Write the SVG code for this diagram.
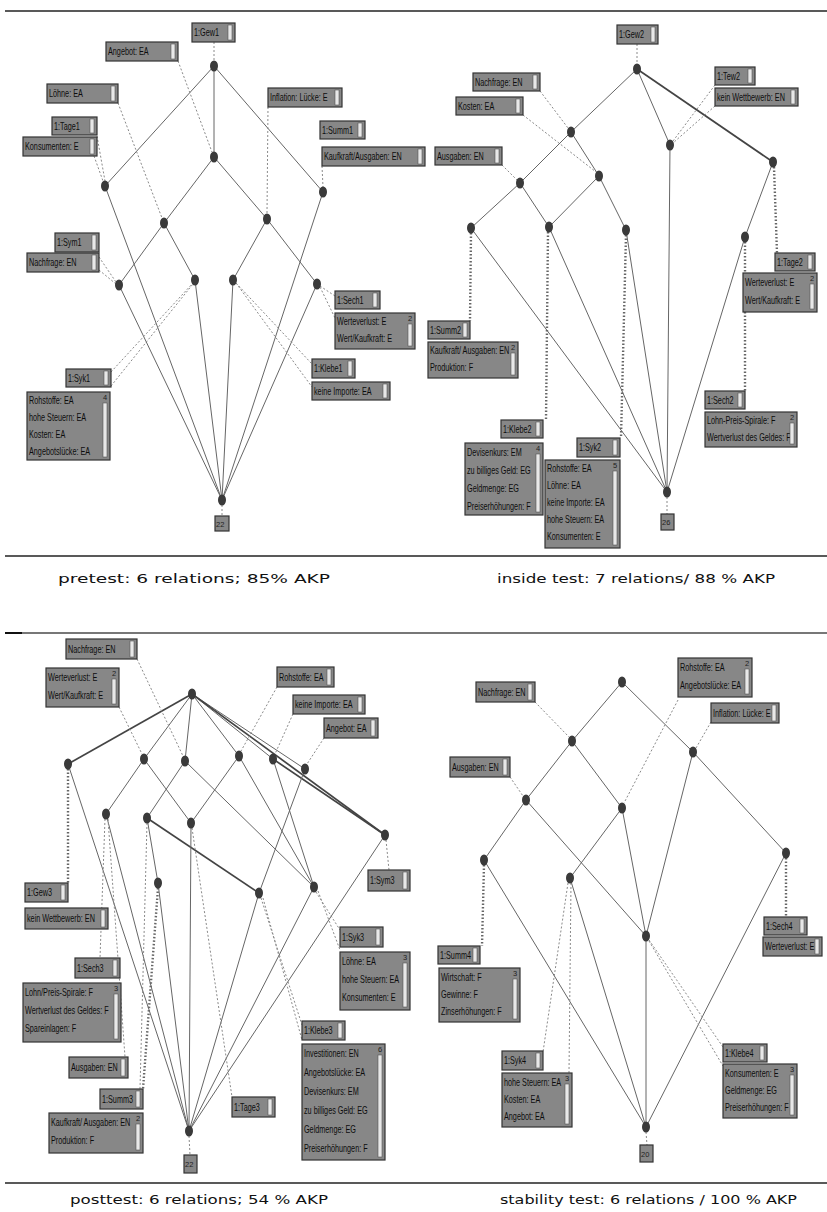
<svg xmlns="http://www.w3.org/2000/svg" width="827" height="1212" viewBox="0 0 827 1212">
<style>
.lb{fill:#878787;stroke:#333;stroke-width:1.2}
.sb{fill:#e8e8e8;stroke:#555;stroke-width:0.6}
.tx{font-family:"Liberation Sans",Arial,sans-serif;font-size:11px;fill:#0d0d0d;transform-box:fill-box;transform-origin:0 0;transform:scaleX(0.66)}
.ct{font-family:"Liberation Sans",sans-serif;font-size:7.5px;fill:#222}
.n{fill:#3a3a3a}
.e{stroke:#666;stroke-width:1;fill:none}
.et{stroke:#444;stroke-width:1.7;fill:none}
.d{stroke:#8a8a8a;stroke-width:1;stroke-dasharray:2 2;fill:none}
.dd{stroke:#666;stroke-width:2.4;stroke-dasharray:1.5 2;fill:none}
.cap{font-family:"DejaVu Sans",sans-serif;font-size:13px;fill:#111}
.sep{stroke:#222;stroke-width:1.6}
</style>
<rect width="827" height="1212" fill="#fff"/>
<g id="separators">
<line class="sep" x1="5" y1="11" x2="827" y2="11" stroke="#444" stroke-width="2"/>
<line class="sep" x1="5" y1="556" x2="827" y2="556"/>
<line x1="5" y1="633" x2="827" y2="633" stroke="#777" stroke-width="2"/>
<line x1="5" y1="633" x2="22" y2="633" stroke="#111" stroke-width="2"/>
<line class="sep" x1="5" y1="1183" x2="827" y2="1183"/>
</g>
<g id="connectors">
<!-- pretest solid -->
<line class="e" x1="214" y1="66" x2="105" y2="186"/>
<line class="e" x1="214" y1="66" x2="214" y2="157"/>
<line class="e" x1="214" y1="66" x2="323" y2="192"/>
<line class="e" x1="214" y1="157" x2="164" y2="223"/>
<line class="e" x1="214" y1="157" x2="267" y2="219"/>
<line class="e" x1="164" y1="223" x2="119" y2="285"/>
<line class="e" x1="164" y1="223" x2="195" y2="280"/>
<line class="e" x1="267" y1="219" x2="233" y2="280"/>
<line class="e" x1="267" y1="219" x2="317" y2="284"/>
<line class="e" x1="105" y1="186" x2="222" y2="500"/>
<line class="e" x1="323" y1="192" x2="222" y2="500"/>
<line class="e" x1="119" y1="285" x2="222" y2="500"/>
<line class="e" x1="195" y1="280" x2="222" y2="500"/>
<line class="e" x1="233" y1="280" x2="222" y2="500"/>
<line class="e" x1="317" y1="284" x2="222" y2="500"/>
<!-- pretest dashed -->
<line class="d" x1="214" y1="42" x2="214" y2="61"/>
<line class="d" x1="178" y1="61" x2="212" y2="152"/>
<line class="d" x1="118" y1="103" x2="162" y2="218"/>
<line class="d" x1="97" y1="136" x2="105" y2="181"/>
<line class="d" x1="94" y1="156" x2="103" y2="181"/>
<line class="d" x1="268" y1="107" x2="267" y2="214"/>
<line class="d" x1="322" y1="166" x2="323" y2="187"/>
<line class="d" x1="99" y1="257" x2="116" y2="282"/>
<line class="d" x1="99" y1="270" x2="116" y2="284"/>
<line class="d" x1="111" y1="372" x2="193" y2="283"/>
<line class="d" x1="111" y1="386" x2="193" y2="284"/>
<line class="d" x1="320" y1="286" x2="335" y2="296"/>
<line class="d" x1="320" y1="287" x2="335" y2="318"/>
<line class="d" x1="236" y1="283" x2="312" y2="364"/>
<line class="d" x1="236" y1="283" x2="312" y2="387"/>
<line class="d" x1="222" y1="505" x2="222" y2="516"/>
<!-- inside test solid -->
<line class="e" x1="637" y1="69" x2="571" y2="132"/>
<line class="e" x1="637" y1="69" x2="670" y2="145"/>
<line class="et" x1="637" y1="69" x2="773" y2="162"/>
<line class="e" x1="571" y1="132" x2="520" y2="183"/>
<line class="e" x1="571" y1="132" x2="599" y2="176"/>
<line class="e" x1="520" y1="183" x2="471" y2="228"/>
<line class="e" x1="520" y1="183" x2="549" y2="227"/>
<line class="e" x1="599" y1="176" x2="549" y2="227"/>
<line class="e" x1="599" y1="176" x2="626" y2="230"/>
<line class="e" x1="773" y1="162" x2="745" y2="237"/>
<line class="e" x1="670" y1="145" x2="667" y2="492"/>
<line class="e" x1="471" y1="228" x2="667" y2="492"/>
<line class="e" x1="549" y1="227" x2="667" y2="492"/>
<line class="e" x1="626" y1="230" x2="667" y2="492"/>
<line class="e" x1="745" y1="237" x2="667" y2="492"/>
<!-- inside test dashed -->
<line class="d" x1="637" y1="44" x2="637" y2="64"/>
<line class="d" x1="540" y1="91" x2="568" y2="128"/>
<line class="d" x1="523" y1="115" x2="596" y2="172"/>
<line class="d" x1="715" y1="85" x2="673" y2="141"/>
<line class="d" x1="715" y1="106" x2="673" y2="143"/>
<line class="d" x1="502" y1="165" x2="517" y2="180"/>
<line class="dd" x1="471" y1="233" x2="470" y2="321"/>
<line class="dd" x1="548" y1="232" x2="546" y2="420"/>
<line class="dd" x1="626" y1="235" x2="621" y2="438"/>
<line class="dd" x1="774" y1="167" x2="777" y2="253"/>
<line class="dd" x1="745" y1="242" x2="745" y2="391"/>
<line class="d" x1="667" y1="497" x2="667" y2="514"/>
<!-- posttest solid -->
<line class="et" x1="192" y1="694" x2="68" y2="764"/>
<line class="e" x1="192" y1="694" x2="144" y2="759"/>
<line class="e" x1="192" y1="694" x2="185" y2="761"/>
<line class="e" x1="192" y1="694" x2="239" y2="756"/>
<line class="e" x1="192" y1="694" x2="273" y2="759"/>
<line class="e" x1="192" y1="694" x2="305" y2="769"/>
<line class="et" x1="192" y1="694" x2="385" y2="835"/>
<line class="et" x1="273" y1="759" x2="385" y2="835"/>
<line class="e" x1="144" y1="759" x2="106" y2="814"/>
<line class="e" x1="144" y1="759" x2="191" y2="823"/>
<line class="e" x1="185" y1="761" x2="147" y2="818"/>
<line class="e" x1="185" y1="761" x2="314" y2="887"/>
<line class="e" x1="239" y1="756" x2="191" y2="823"/>
<line class="e" x1="239" y1="756" x2="314" y2="887"/>
<line class="e" x1="273" y1="759" x2="314" y2="887"/>
<line class="e" x1="305" y1="769" x2="259" y2="893"/>
<line class="et" x1="147" y1="818" x2="259" y2="893"/>
<line class="e" x1="147" y1="818" x2="158" y2="883"/>
<line class="e" x1="68" y1="764" x2="189" y2="1131"/>
<line class="e" x1="106" y1="814" x2="189" y2="1131"/>
<line class="e" x1="158" y1="883" x2="189" y2="1131"/>
<line class="e" x1="191" y1="823" x2="189" y2="1131"/>
<line class="e" x1="259" y1="893" x2="189" y2="1131"/>
<line class="e" x1="314" y1="887" x2="189" y2="1131"/>
<line class="e" x1="385" y1="835" x2="189" y2="1131"/>
<!-- posttest dashed -->
<line class="d" x1="137" y1="659" x2="183" y2="756"/>
<line class="d" x1="119" y1="707" x2="142" y2="754"/>
<line class="d" x1="277" y1="687" x2="241" y2="751"/>
<line class="d" x1="293" y1="714" x2="275" y2="754"/>
<line class="d" x1="324" y1="738" x2="307" y2="764"/>
<line class="dd" x1="68" y1="769" x2="68" y2="883"/>
<line class="d" x1="105" y1="819" x2="100" y2="958"/>
<line class="d" x1="108" y1="819" x2="125" y2="1057"/>
<line class="d" x1="147" y1="823" x2="140" y2="1089"/>
<line class="dd" x1="158" y1="888" x2="143" y2="1089"/>
<line class="d" x1="192" y1="828" x2="232" y2="1097"/>
<line class="d" x1="261" y1="898" x2="302" y2="1025"/>
<line class="d" x1="263" y1="898" x2="302" y2="1040"/>
<line class="d" x1="316" y1="892" x2="340" y2="930"/>
<line class="d" x1="318" y1="891" x2="340" y2="950"/>
<line class="d" x1="386" y1="840" x2="389" y2="870"/>
<line class="d" x1="189" y1="1136" x2="190" y2="1155"/>
<!-- stability solid -->
<line class="e" x1="622" y1="682" x2="572" y2="741"/>
<line class="e" x1="622" y1="682" x2="693" y2="752"/>
<line class="e" x1="572" y1="741" x2="526" y2="800"/>
<line class="e" x1="572" y1="741" x2="622" y2="808"/>
<line class="e" x1="693" y1="752" x2="786" y2="853"/>
<line class="e" x1="693" y1="752" x2="646" y2="936"/>
<line class="e" x1="526" y1="800" x2="484" y2="860"/>
<line class="e" x1="526" y1="800" x2="646" y2="936"/>
<line class="e" x1="622" y1="808" x2="570" y2="878"/>
<line class="e" x1="622" y1="808" x2="646" y2="936"/>
<line class="e" x1="484" y1="860" x2="646" y2="1127"/>
<line class="e" x1="570" y1="878" x2="646" y2="1127"/>
<line class="e" x1="646" y1="936" x2="646" y2="1127"/>
<line class="e" x1="786" y1="853" x2="646" y2="1127"/>
<!-- stability dashed -->
<line class="d" x1="535" y1="702" x2="569" y2="737"/>
<line class="d" x1="678" y1="700" x2="624" y2="803"/>
<line class="d" x1="711" y1="722" x2="696" y2="748"/>
<line class="d" x1="510" y1="777" x2="523" y2="796"/>
<line class="dd" x1="484" y1="865" x2="482" y2="946"/>
<line class="d" x1="568" y1="883" x2="543" y2="1052"/>
<line class="d" x1="571" y1="883" x2="569" y2="1073"/>
<line class="dd" x1="786" y1="858" x2="786" y2="917"/>
<line class="d" x1="649" y1="940" x2="723" y2="1047"/>
<line class="d" x1="649" y1="941" x2="723" y2="1066"/>
<line class="d" x1="646" y1="1132" x2="647" y2="1145"/>
</g>
<!-- nodes -->
<g id="pre-n1"><ellipse class="n" cx="214" cy="66" rx="4" ry="5.5"/></g>
<g id="pre-n2"><ellipse class="n" cx="214" cy="157" rx="4" ry="5.5"/></g>
<g id="pre-n3"><ellipse class="n" cx="105" cy="186" rx="4" ry="5.5"/></g>
<g id="pre-n4"><ellipse class="n" cx="323" cy="192" rx="4" ry="5.5"/></g>
<g id="pre-n5"><ellipse class="n" cx="164" cy="223" rx="4" ry="5.5"/></g>
<g id="pre-n6"><ellipse class="n" cx="267" cy="219" rx="4" ry="5.5"/></g>
<g id="pre-n7"><ellipse class="n" cx="119" cy="285" rx="4" ry="5.5"/></g>
<g id="pre-n8"><ellipse class="n" cx="195" cy="280" rx="4" ry="5.5"/></g>
<g id="pre-n9"><ellipse class="n" cx="233" cy="280" rx="4" ry="5.5"/></g>
<g id="pre-n10"><ellipse class="n" cx="317" cy="284" rx="4" ry="5.5"/></g>
<g id="pre-n11"><ellipse class="n" cx="222" cy="500" rx="4" ry="5.5"/></g>
<g id="in-n1"><ellipse class="n" cx="637" cy="69" rx="4" ry="5.5"/></g>
<g id="in-n2"><ellipse class="n" cx="571" cy="132" rx="4" ry="5.5"/></g>
<g id="in-n3"><ellipse class="n" cx="670" cy="145" rx="4" ry="5.5"/></g>
<g id="in-n4"><ellipse class="n" cx="773" cy="162" rx="4" ry="5.5"/></g>
<g id="in-n5"><ellipse class="n" cx="520" cy="183" rx="4" ry="5.5"/></g>
<g id="in-n6"><ellipse class="n" cx="599" cy="176" rx="4" ry="5.5"/></g>
<g id="in-n7"><ellipse class="n" cx="471" cy="228" rx="4" ry="5.5"/></g>
<g id="in-n8"><ellipse class="n" cx="549" cy="227" rx="4" ry="5.5"/></g>
<g id="in-n9"><ellipse class="n" cx="626" cy="230" rx="4" ry="5.5"/></g>
<g id="in-n10"><ellipse class="n" cx="745" cy="237" rx="4" ry="5.5"/></g>
<g id="in-n11"><ellipse class="n" cx="667" cy="492" rx="4" ry="5.5"/></g>
<g id="post-n1"><ellipse class="n" cx="192" cy="694" rx="4" ry="5.5"/></g>
<g id="post-n2"><ellipse class="n" cx="68" cy="764" rx="4" ry="5.5"/></g>
<g id="post-n3"><ellipse class="n" cx="144" cy="759" rx="4" ry="5.5"/></g>
<g id="post-n4"><ellipse class="n" cx="185" cy="761" rx="4" ry="5.5"/></g>
<g id="post-n5"><ellipse class="n" cx="239" cy="756" rx="4" ry="5.5"/></g>
<g id="post-n6"><ellipse class="n" cx="273" cy="759" rx="4" ry="5.5"/></g>
<g id="post-n7"><ellipse class="n" cx="305" cy="769" rx="4" ry="5.5"/></g>
<g id="post-n8"><ellipse class="n" cx="106" cy="814" rx="4" ry="5.5"/></g>
<g id="post-n9"><ellipse class="n" cx="147" cy="818" rx="4" ry="5.5"/></g>
<g id="post-n10"><ellipse class="n" cx="191" cy="823" rx="4" ry="5.5"/></g>
<g id="post-n11"><ellipse class="n" cx="385" cy="835" rx="4" ry="5.5"/></g>
<g id="post-n12"><ellipse class="n" cx="158" cy="883" rx="4" ry="5.5"/></g>
<g id="post-n13"><ellipse class="n" cx="259" cy="893" rx="4" ry="5.5"/></g>
<g id="post-n14"><ellipse class="n" cx="314" cy="887" rx="4" ry="5.5"/></g>
<g id="post-n15"><ellipse class="n" cx="189" cy="1131" rx="4" ry="5.5"/></g>
<g id="stab-n1"><ellipse class="n" cx="622" cy="682" rx="4" ry="5.5"/></g>
<g id="stab-n2"><ellipse class="n" cx="572" cy="741" rx="4" ry="5.5"/></g>
<g id="stab-n3"><ellipse class="n" cx="693" cy="752" rx="4" ry="5.5"/></g>
<g id="stab-n4"><ellipse class="n" cx="526" cy="800" rx="4" ry="5.5"/></g>
<g id="stab-n5"><ellipse class="n" cx="622" cy="808" rx="4" ry="5.5"/></g>
<g id="stab-n6"><ellipse class="n" cx="484" cy="860" rx="4" ry="5.5"/></g>
<g id="stab-n7"><ellipse class="n" cx="570" cy="878" rx="4" ry="5.5"/></g>
<g id="stab-n8"><ellipse class="n" cx="786" cy="853" rx="4" ry="5.5"/></g>
<g id="stab-n9"><ellipse class="n" cx="646" cy="936" rx="4" ry="5.5"/></g>
<g id="stab-n10"><ellipse class="n" cx="646" cy="1127" rx="4" ry="5.5"/></g>
<!-- pretest labels -->
<g id="pre-gew1"><rect class="lb" x="192" y="23" width="43" height="19"/><text class="tx" x="194" y="36">1:Gew1</text><rect class="sb" x="228" y="25" width="4" height="15"/></g>
<g id="pre-angebot"><rect class="lb" x="106" y="42" width="72" height="19"/><text class="tx" x="108" y="55">Angebot: EA</text><rect class="sb" x="171" y="44" width="4" height="15"/></g>
<g id="pre-loehne"><rect class="lb" x="47" y="84" width="71" height="19"/><text class="tx" x="49" y="97">Löhne: EA</text><rect class="sb" x="111" y="86" width="4" height="15"/></g>
<g id="pre-tage1"><rect class="lb" x="52" y="117" width="45" height="18"/><text class="tx" x="54" y="130">1:Tage1</text><rect class="sb" x="90" y="119" width="4" height="14"/></g>
<g id="pre-konsumenten"><rect class="lb" x="23" y="137" width="74" height="19"/><text class="tx" x="25" y="150">Konsumenten: E</text><rect class="sb" x="90" y="139" width="4" height="15"/></g>
<g id="pre-inflation"><rect class="lb" x="268" y="88" width="74" height="19"/><text class="tx" x="270" y="101">Inflation: Lücke: E</text><rect class="sb" x="335" y="90" width="4" height="15"/></g>
<g id="pre-summ1"><rect class="lb" x="320" y="121" width="45" height="18"/><text class="tx" x="322" y="134">1:Summ1</text><rect class="sb" x="358" y="123" width="4" height="14"/></g>
<g id="pre-kaufkraft"><rect class="lb" x="322" y="147" width="103" height="19"/><text class="tx" x="324" y="160">Kaufkraft/Ausgaben: EN</text><rect class="sb" x="418" y="149" width="4" height="15"/></g>
<g id="pre-sym1"><rect class="lb" x="55" y="233" width="44" height="19"/><text class="tx" x="57" y="246">1:Sym1</text><rect class="sb" x="92" y="235" width="4" height="15"/></g>
<g id="pre-nachfrage"><rect class="lb" x="27" y="253" width="72" height="19"/><text class="tx" x="29" y="266">Nachfrage: EN</text><rect class="sb" x="92" y="255" width="4" height="15"/></g>
<g id="pre-syk1"><rect class="lb" x="66" y="369" width="45" height="18"/><text class="tx" x="68" y="382">1:Syk1</text><rect class="sb" x="104" y="371" width="4" height="14"/></g>
<g id="pre-syk1-list"><rect class="lb" x="27" y="392" width="83" height="68"/><text class="tx" x="29" y="404">Rohstoffe: EA</text><text class="tx" x="29" y="421">hohe Steuern: EA</text><text class="tx" x="29" y="438">Kosten: EA</text><text class="tx" x="29" y="455">Angebotslücke: EA</text><text class="ct" x="103" y="400">4</text><rect class="sb" x="103" y="403" width="4" height="54"/></g>
<g id="pre-sech1"><rect class="lb" x="335" y="291" width="45" height="18"/><text class="tx" x="337" y="304">1:Sech1</text><rect class="sb" x="373" y="293" width="4" height="14"/></g>
<g id="pre-sech1-list"><rect class="lb" x="335" y="313" width="80" height="36"/><text class="tx" x="337" y="325">Werteverlust: E</text><text class="tx" x="337" y="342">Wert/Kaufkraft: E</text><text class="ct" x="408" y="321">2</text><rect class="sb" x="408" y="324" width="4" height="22"/></g>
<g id="pre-klebe1"><rect class="lb" x="312" y="359" width="43" height="19"/><text class="tx" x="314" y="372">1:Klebe1</text><rect class="sb" x="348" y="361" width="4" height="15"/></g>
<g id="pre-importe"><rect class="lb" x="312" y="382" width="78" height="18"/><text class="tx" x="314" y="395">keine Importe: EA</text><rect class="sb" x="383" y="384" width="4" height="14"/></g>
<g id="pre-count"><rect class="lb" x="215" y="516" width="14" height="15"/><text class="ct" x="216" y="527">22</text></g>
<!-- inside test labels -->
<g id="in-gew2"><rect class="lb" x="617" y="25" width="41" height="19"/><text class="tx" x="619" y="38">1:Gew2</text><rect class="sb" x="651" y="27" width="4" height="15"/></g>
<g id="in-nachfrage"><rect class="lb" x="473" y="73" width="67" height="18"/><text class="tx" x="475" y="86">Nachfrage: EN</text><rect class="sb" x="533" y="75" width="4" height="14"/></g>
<g id="in-kosten"><rect class="lb" x="456" y="97" width="67" height="18"/><text class="tx" x="458" y="110">Kosten: EA</text><rect class="sb" x="516" y="99" width="4" height="14"/></g>
<g id="in-tew2"><rect class="lb" x="715" y="67" width="40" height="18"/><text class="tx" x="717" y="80">1:Tew2</text><rect class="sb" x="748" y="69" width="4" height="14"/></g>
<g id="in-wettbewerb"><rect class="lb" x="715" y="88" width="83" height="18"/><text class="tx" x="717" y="101">kein Wettbewerb: EN</text><rect class="sb" x="791" y="90" width="4" height="14"/></g>
<g id="in-ausgaben"><rect class="lb" x="435" y="147" width="67" height="18"/><text class="tx" x="437" y="160">Ausgaben: EN</text><rect class="sb" x="495" y="149" width="4" height="14"/></g>
<g id="in-summ2"><rect class="lb" x="428" y="321" width="42" height="18"/><text class="tx" x="430" y="334">1:Summ2</text><rect class="sb" x="463" y="323" width="4" height="14"/></g>
<g id="in-summ2-list"><rect class="lb" x="428" y="342" width="90" height="36"/><text class="tx" x="430" y="354">Kaufkraft/ Ausgaben: EN</text><text class="tx" x="430" y="371">Produktion: F</text><text class="ct" x="511" y="350">2</text><rect class="sb" x="511" y="353" width="4" height="22"/></g>
<g id="in-klebe2"><rect class="lb" x="501" y="420" width="42" height="18"/><text class="tx" x="503" y="433">1:Klebe2</text><rect class="sb" x="536" y="422" width="4" height="14"/></g>
<g id="in-klebe2-list"><rect class="lb" x="465" y="443" width="78" height="72"/><text class="tx" x="467" y="456">Devisenkurs: EM</text><text class="tx" x="467" y="474">zu billiges Geld: EG</text><text class="tx" x="467" y="492">Geldmenge: EG</text><text class="tx" x="467" y="510">Preiserhöhungen: F</text><text class="ct" x="536" y="451">4</text><rect class="sb" x="536" y="454" width="4" height="58"/></g>
<g id="in-syk2"><rect class="lb" x="577" y="438" width="43" height="19"/><text class="tx" x="579" y="451">1:Syk2</text><rect class="sb" x="613" y="440" width="4" height="15"/></g>
<g id="in-syk2-list"><rect class="lb" x="545" y="460" width="75" height="88"/><text class="tx" x="547" y="472">Rohstoffe: EA</text><text class="tx" x="547" y="489">Löhne: EA</text><text class="tx" x="547" y="506">keine Importe: EA</text><text class="tx" x="547" y="523">hohe Steuern: EA</text><text class="tx" x="547" y="540">Konsumenten: E</text><text class="ct" x="613" y="468">5</text><rect class="sb" x="613" y="471" width="4" height="74"/></g>
<g id="in-tage2"><rect class="lb" x="775" y="253" width="40" height="18"/><text class="tx" x="777" y="266">1:Tage2</text><rect class="sb" x="808" y="255" width="4" height="14"/></g>
<g id="in-tage2-list"><rect class="lb" x="743" y="273" width="74" height="39"/><text class="tx" x="745" y="286">Werteverlust: E</text><text class="tx" x="745" y="304">Wert/Kaufkraft: E</text><text class="ct" x="810" y="281">2</text><rect class="sb" x="810" y="284" width="4" height="25"/></g>
<g id="in-sech2"><rect class="lb" x="705" y="391" width="40" height="18"/><text class="tx" x="707" y="404">1:Sech2</text><rect class="sb" x="738" y="393" width="4" height="14"/></g>
<g id="in-sech2-list"><rect class="lb" x="705" y="412" width="92" height="35"/><text class="tx" x="707" y="424">Lohn-Preis-Spirale: F</text><text class="tx" x="707" y="441">Wertverlust des Geldes: F</text><text class="ct" x="790" y="420">2</text><rect class="sb" x="790" y="423" width="4" height="21"/></g>
<g id="in-count"><rect class="lb" x="661" y="514" width="13" height="16"/><text class="ct" x="662" y="525">26</text></g>
<!-- posttest labels -->
<g id="post-nachfrage"><rect class="lb" x="66" y="639" width="71" height="20"/><text class="tx" x="68" y="653">Nachfrage: EN</text><rect class="sb" x="130" y="641" width="4" height="16"/></g>
<g id="post-werte-list"><rect class="lb" x="46" y="668" width="73" height="39"/><text class="tx" x="48" y="681">Werteverlust: E</text><text class="tx" x="48" y="699">Wert/Kaufkraft: E</text><text class="ct" x="112" y="676">2</text><rect class="sb" x="112" y="679" width="4" height="25"/></g>
<g id="post-rohstoffe"><rect class="lb" x="277" y="667" width="57" height="20"/><text class="tx" x="279" y="681">Rohstoffe: EA</text><rect class="sb" x="327" y="669" width="4" height="16"/></g>
<g id="post-importe"><rect class="lb" x="293" y="695" width="72" height="19"/><text class="tx" x="295" y="708">keine Importe: EA</text><rect class="sb" x="358" y="697" width="4" height="15"/></g>
<g id="post-angebot"><rect class="lb" x="324" y="718" width="54" height="20"/><text class="tx" x="326" y="732">Angebot: EA</text><rect class="sb" x="371" y="720" width="4" height="16"/></g>
<g id="post-gew3"><rect class="lb" x="25" y="883" width="43" height="19"/><text class="tx" x="27" y="896">1:Gew3</text><rect class="sb" x="61" y="885" width="4" height="15"/></g>
<g id="post-wettbewerb"><rect class="lb" x="25" y="908" width="83" height="21"/><text class="tx" x="27" y="922">kein Wettbewerb: EN</text><rect class="sb" x="101" y="910" width="4" height="17"/></g>
<g id="post-sech3"><rect class="lb" x="75" y="958" width="45" height="20"/><text class="tx" x="77" y="972">1:Sech3</text><rect class="sb" x="113" y="960" width="4" height="16"/></g>
<g id="post-sech3-list"><rect class="lb" x="23" y="983" width="98" height="59"/><text class="tx" x="25" y="996">Lohn/Preis-Spirale: F</text><text class="tx" x="25" y="1014">Wertverlust des Geldes: F</text><text class="tx" x="25" y="1032">Spareinlagen: F</text><text class="ct" x="114" y="991">3</text><rect class="sb" x="114" y="994" width="4" height="45"/></g>
<g id="post-ausgaben"><rect class="lb" x="69" y="1057" width="59" height="21"/><text class="tx" x="71" y="1071">Ausgaben: EN</text><rect class="sb" x="121" y="1059" width="4" height="17"/></g>
<g id="post-summ3"><rect class="lb" x="100" y="1089" width="43" height="20"/><text class="tx" x="102" y="1103">1:Summ3</text><rect class="sb" x="136" y="1091" width="4" height="16"/></g>
<g id="post-summ3-list"><rect class="lb" x="49" y="1113" width="94" height="40"/><text class="tx" x="51" y="1126">Kaufkraft/ Ausgaben: EN</text><text class="tx" x="51" y="1144">Produktion: F</text><text class="ct" x="136" y="1121">2</text><rect class="sb" x="136" y="1124" width="4" height="26"/></g>
<g id="post-tage3"><rect class="lb" x="232" y="1097" width="43" height="20"/><text class="tx" x="234" y="1111">1:Tage3</text><rect class="sb" x="268" y="1099" width="4" height="16"/></g>
<g id="post-klebe3"><rect class="lb" x="302" y="1021" width="43" height="19"/><text class="tx" x="304" y="1034">1:Klebe3</text><rect class="sb" x="338" y="1023" width="4" height="15"/></g>
<g id="post-klebe3-list"><rect class="lb" x="302" y="1044" width="83" height="116"/><text class="tx" x="304" y="1057">Investitionen: EN</text><text class="tx" x="304" y="1076">Angebotslücke: EA</text><text class="tx" x="304" y="1095">Devisenkurs: EM</text><text class="tx" x="304" y="1114">zu billiges Geld: EG</text><text class="tx" x="304" y="1133">Geldmenge: EG</text><text class="tx" x="304" y="1152">Preiserhöhungen: F</text><text class="ct" x="378" y="1052">6</text><rect class="sb" x="378" y="1055" width="4" height="102"/></g>
<g id="post-syk3"><rect class="lb" x="340" y="927" width="43" height="20"/><text class="tx" x="342" y="941">1:Syk3</text><rect class="sb" x="376" y="929" width="4" height="16"/></g>
<g id="post-syk3-list"><rect class="lb" x="340" y="952" width="70" height="58"/><text class="tx" x="342" y="965">Löhne: EA</text><text class="tx" x="342" y="983">hohe Steuern: EA</text><text class="tx" x="342" y="1001">Konsumenten: E</text><text class="ct" x="403" y="960">3</text><rect class="sb" x="403" y="963" width="4" height="44"/></g>
<g id="post-sym3"><rect class="lb" x="368" y="870" width="42" height="21"/><text class="tx" x="370" y="884">1:Sym3</text><rect class="sb" x="403" y="872" width="4" height="17"/></g>
<g id="post-count"><rect class="lb" x="184" y="1155" width="13" height="18"/><text class="ct" x="185" y="1167">22</text></g>
<!-- stability labels -->
<g id="stab-nachfrage"><rect class="lb" x="476" y="682" width="59" height="20"/><text class="tx" x="478" y="696">Nachfrage: EN</text><rect class="sb" x="528" y="684" width="4" height="16"/></g>
<g id="stab-rohstoffe-list"><rect class="lb" x="678" y="658" width="74" height="39"/><text class="tx" x="680" y="671">Rohstoffe: EA</text><text class="tx" x="680" y="689">Angebotslücke: EA</text><text class="ct" x="745" y="666">2</text><rect class="sb" x="745" y="669" width="4" height="25"/></g>
<g id="stab-inflation"><rect class="lb" x="711" y="703" width="68" height="20"/><text class="tx" x="713" y="717">Inflation: Lücke: E</text><rect class="sb" x="772" y="705" width="4" height="16"/></g>
<g id="stab-ausgaben"><rect class="lb" x="450" y="757" width="60" height="20"/><text class="tx" x="452" y="771">Ausgaben: EN</text><rect class="sb" x="503" y="759" width="4" height="16"/></g>
<g id="stab-summ4"><rect class="lb" x="438" y="946" width="42" height="18"/><text class="tx" x="440" y="959">1:Summ4</text><rect class="sb" x="473" y="948" width="4" height="14"/></g>
<g id="stab-summ4-list"><rect class="lb" x="439" y="968" width="81" height="54"/><text class="tx" x="441" y="981">Wirtschaft: F</text><text class="tx" x="441" y="998">Gewinne: F</text><text class="tx" x="441" y="1015">Zinserhöhungen: F</text><text class="ct" x="513" y="976">3</text><rect class="sb" x="513" y="979" width="4" height="40"/></g>
<g id="stab-syk4"><rect class="lb" x="502" y="1051" width="41" height="19"/><text class="tx" x="504" y="1064">1:Syk4</text><rect class="sb" x="536" y="1053" width="4" height="15"/></g>
<g id="stab-syk4-list"><rect class="lb" x="502" y="1073" width="70" height="54"/><text class="tx" x="504" y="1086">hohe Steuern: EA</text><text class="tx" x="504" y="1103">Kosten: EA</text><text class="tx" x="504" y="1120">Angebot: EA</text><text class="ct" x="565" y="1081">3</text><rect class="sb" x="565" y="1084" width="4" height="40"/></g>
<g id="stab-sech4"><rect class="lb" x="764" y="917" width="43" height="18"/><text class="tx" x="766" y="930">1:Sech4</text><rect class="sb" x="800" y="919" width="4" height="14"/></g>
<g id="stab-werte"><rect class="lb" x="763" y="937" width="59" height="19"/><text class="tx" x="765" y="950">Werteverlust: E</text><rect class="sb" x="815" y="939" width="4" height="15"/></g>
<g id="stab-klebe4"><rect class="lb" x="723" y="1044" width="44" height="18"/><text class="tx" x="725" y="1057">1:Klebe4</text><rect class="sb" x="760" y="1046" width="4" height="14"/></g>
<g id="stab-klebe4-list"><rect class="lb" x="723" y="1064" width="74" height="54"/><text class="tx" x="725" y="1077">Konsumenten: E</text><text class="tx" x="725" y="1094">Geldmenge: EG</text><text class="tx" x="725" y="1111">Preiserhöhungen: F</text><text class="ct" x="790" y="1072">3</text><rect class="sb" x="790" y="1075" width="4" height="40"/></g>
<g id="stab-count"><rect class="lb" x="640" y="1145" width="13" height="17"/><text class="ct" x="641" y="1157">20</text></g>
<!-- captions -->
<text class="cap" x="58" y="583" textLength="272" lengthAdjust="spacingAndGlyphs">pretest: 6 relations; 85% AKP</text>
<text class="cap" x="497" y="583" textLength="278" lengthAdjust="spacingAndGlyphs">inside test: 7 relations/ 88 % AKP</text>
<text class="cap" x="70" y="1204" textLength="258" lengthAdjust="spacingAndGlyphs">posttest: 6 relations; 54 % AKP</text>
<text class="cap" x="500" y="1204" textLength="297" lengthAdjust="spacingAndGlyphs">stability test: 6 relations / 100 % AKP</text>
</svg>
